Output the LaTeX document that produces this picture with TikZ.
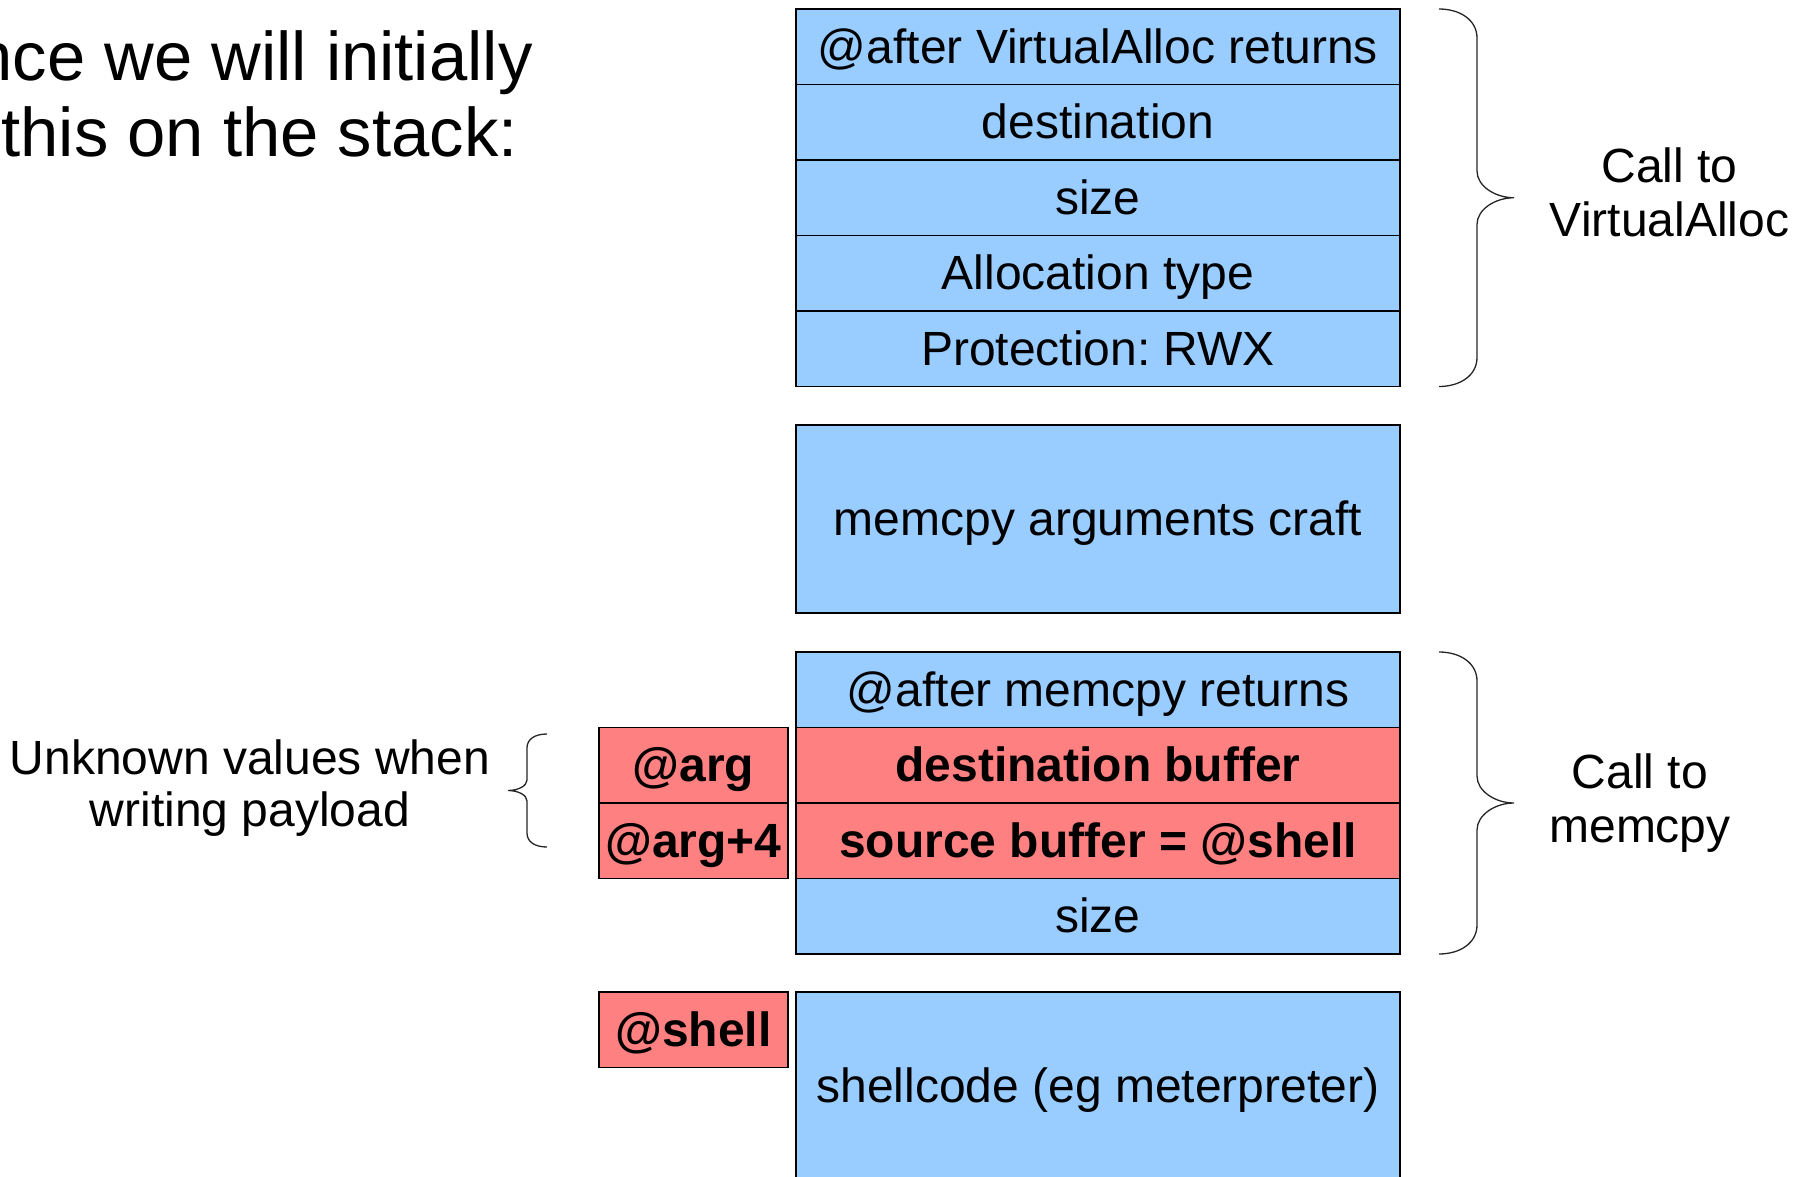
\documentclass[tikz,border=0pt]{standalone}
\usepackage{fontspec}
\setmainfont{Liberation Sans}
\frenchspacing
\definecolor{slotblue}{HTML}{99CCFF}
\definecolor{slotred}{HTML}{FF8080}
\begin{document}
\begin{tikzpicture}[x=0.5pt,y=-0.5pt,
  slot/.style={draw=black, line width=0.6pt, inner sep=0pt, outer sep=0pt,
    minimum width=302pt, minimum height=37.75pt, fill=slotblue,
    font=\fontsize{24}{28}\selectfont, text height=21.7pt, text depth=5.1pt},
  unknown/.style={slot, fill=slotred, font=\fontsize{24}{28}\selectfont\bfseries},
  addr/.style={unknown, minimum width=94.5pt},
  bigslot/.style={slot, minimum height=94pt},
  sidetext/.style={font=\fontsize{24}{28}\selectfont, anchor=base, inner sep=0pt},
  introtext/.style={font=\fontsize{34.4}{40}\selectfont, inner sep=0pt},
  bracket/.style={draw=black!85, line width=0.65pt}
]
% page
\fill[white] (0,0) rectangle (1806,1177);
\useasboundingbox (0,0) rectangle (1806,1177);

% heading lines
\node[introtext, anchor=base east] (intro1) at (533,81) {nce we will initially};
\node[introtext, anchor=base west] (intro2) at (1,157) {this on the stack:};

% VirtualAlloc frame
\node[slot] (va1) at (1098,46.75)  {@after VirtualAlloc returns};
\node[slot] (va2) at (1098,122.25) {destination};
\node[slot] (va3) at (1098,197.75) {size};
\node[slot] (va4) at (1098,273.25) {Allocation type};
\node[slot] (va5) at (1098,348.75) {Protection: RWX};

% memcpy argument builder
\node[bigslot] (craft) at (1098,519) {memcpy arguments craft};

% memcpy frame
\node[slot]    (mc1) at (1098,689.75) {@after memcpy returns};
\node[unknown] (mc2) at (1098,765.25) {destination buffer};
\node[unknown] (mc3) at (1098,840.75) {source buffer = @shell};
\node[slot]    (mc4) at (1098,916.25) {size};

% addresses
\node[addr] (arg)    at (693.5,765.25)  {@arg};
\node[addr] (arg4)   at (693.5,840.75)  {@arg+4};
\node[addr] (shaddr) at (693.5,1029.75) {@shell};

% payload
\node[bigslot] (shellcode) at (1098,1086) {shellcode (eg meterpreter)};

% braces
\draw[bracket] (1439,9) .. controls (1460,9) and (1477,20) .. (1477,38)
  -- (1477,171) .. controls (1477,186) and (1495,197.75) .. (1514,197.75)
  .. controls (1495,197.75) and (1477,209.5) .. (1477,224.5)
  -- (1477,357.5) .. controls (1477,375.5) and (1460,386.5) .. (1439,386.5);
\draw[bracket] (1439,652) .. controls (1460,652) and (1477,663) .. (1477,681)
  -- (1477,776) .. controls (1477,791) and (1495,803) .. (1514,803)
  .. controls (1495,803) and (1477,815) .. (1477,830)
  -- (1477,925) .. controls (1477,943) and (1460,954) .. (1439,954);
\draw[bracket] (547,734) .. controls (535,734) and (527,739) .. (527,748)
  -- (527,780) .. controls (527,786) and (518,790.5) .. (508,790.5)
  .. controls (518,790.5) and (527,795) .. (527,801)
  -- (527,833) .. controls (527,842) and (535,847) .. (547,847);

% side notes
\node[sidetext] (unk1) at (250,774) {Unknown values when};
\node[sidetext] (unk2) at (250,826) {writing payload};
\node[sidetext] (vanote1) at (1669.5,183) {Call to};
\node[sidetext] (vanote2) at (1669.5,236) {VirtualAlloc};
\node[sidetext] (mcnote1) at (1640,788) {Call to};
\node[sidetext] (mcnote2) at (1640,842) {memcpy};
\end{tikzpicture}
\end{document}
